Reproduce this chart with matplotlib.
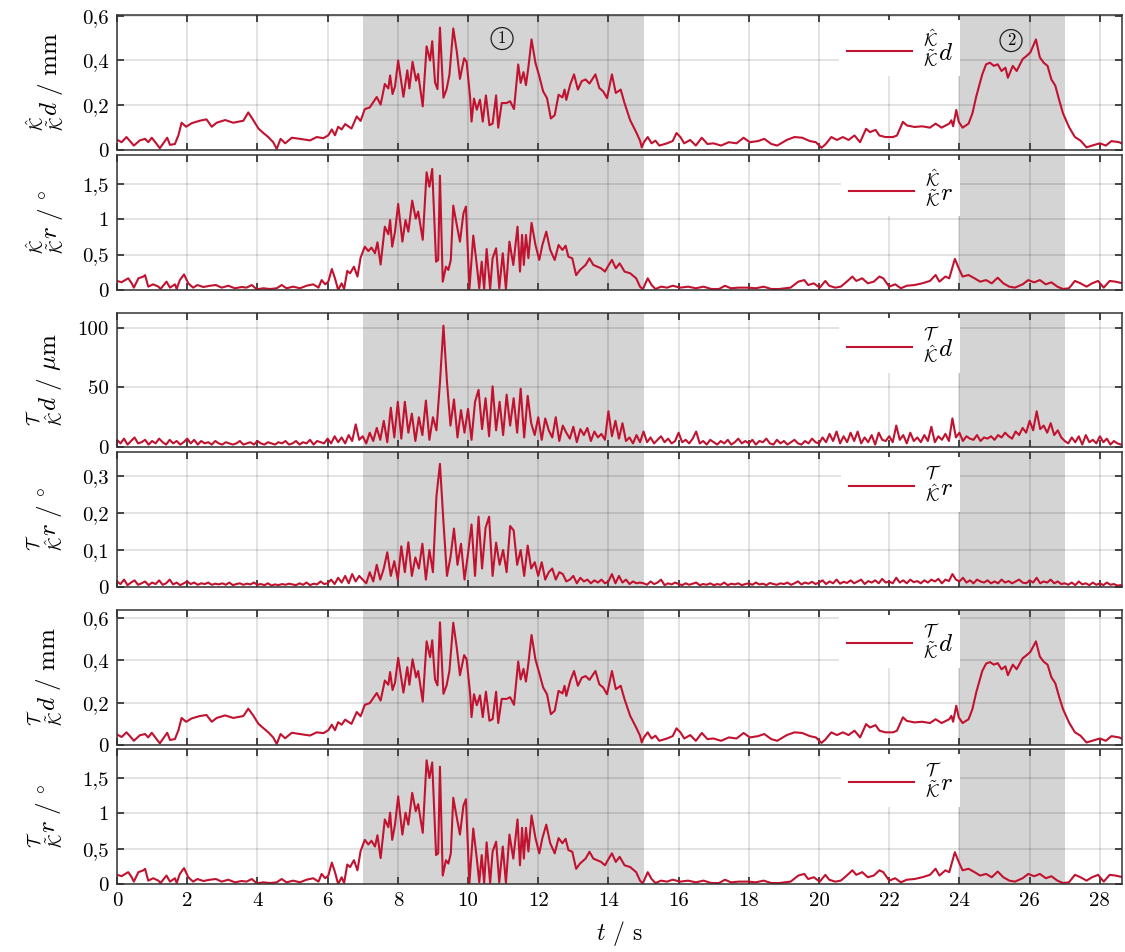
import numpy as np
import matplotlib
matplotlib.use('Agg')
import matplotlib.pyplot as plt

plt.rcParams['font.family'] = ['cmr10', 'DejaVu Serif']
plt.rcParams['mathtext.fontset'] = 'cm'
plt.rcParams['axes.unicode_minus'] = False

# panel 1: K^ K~ d  (mm) as (t, value)
kk_d = [(0.0,0.046),(0.13,0.035),(0.27,0.058),(0.37,0.04),(0.48,0.02),(0.65,0.043),(0.8,0.05),(0.89,0.035),(0.99,0.055),
 (1.13,0.027),(1.22,0.008),(1.43,0.055),(1.51,0.023),(1.65,0.027),(1.75,0.066),(1.84,0.122),(1.97,0.104),(2.13,0.12),
 (2.36,0.131),(2.55,0.137),(2.7,0.104),(2.84,0.122),(3.08,0.134),(3.31,0.122),(3.6,0.131),(3.74,0.168),(3.88,0.134),
 (4.03,0.096),(4.17,0.076),(4.31,0.058),(4.45,0.035),(4.55,0.005),(4.66,0.05),(4.79,0.03),(4.98,0.055),(5.21,0.05),
 (5.5,0.043),(5.69,0.058),(5.88,0.053),(6.02,0.066),(6.12,0.092),(6.21,0.066),(6.3,0.104),(6.4,0.092),(6.5,0.116),
 (6.68,0.096),(6.83,0.15),(6.94,0.13),(7.06,0.183),(7.2,0.19),(7.4,0.237),(7.51,0.203),(7.63,0.295),(7.73,0.275),
 (7.78,0.333),(7.85,0.25),(7.92,0.284),(8.01,0.40),(8.16,0.238),(8.27,0.356),(8.33,0.275),(8.42,0.394),(8.52,0.31),
 (8.58,0.34),(8.71,0.195),(8.82,0.463),(8.92,0.40),(8.98,0.486),(9.06,0.302),(9.13,0.272),(9.2,0.547),(9.3,0.234),
 (9.39,0.272),(9.47,0.336),(9.58,0.543),(9.68,0.44),(9.77,0.318),(9.89,0.41),(9.96,0.394),(10.06,0.234),(10.1,0.127),
 (10.17,0.23),(10.25,0.18),(10.34,0.225),(10.42,0.127),(10.51,0.244),(10.61,0.111),(10.7,0.118),(10.8,0.244),
 (10.86,0.10),(10.96,0.21),(11.1,0.21),(11.2,0.218),(11.31,0.183),(11.43,0.382),(11.5,0.30),(11.58,0.348),
 (11.65,0.29),(11.72,0.37),(11.81,0.494),(11.92,0.39),(12.03,0.33),(12.14,0.262),(12.25,0.232),(12.36,0.141),
 (12.47,0.156),(12.58,0.247),(12.69,0.235),(12.75,0.27),(12.8,0.224),(12.91,0.292),(13.02,0.338),(13.13,0.27),
 (13.24,0.308),(13.35,0.315),(13.46,0.297),(13.63,0.338),(13.74,0.277),(13.85,0.262),(13.96,0.232),(14.1,0.338),
 (14.21,0.255),(14.35,0.27),(14.46,0.209),(14.62,0.133),(14.79,0.08),(14.9,0.042),(14.95,0.012),(15.01,0.035),
 (15.12,0.058),(15.23,0.03),(15.34,0.042),(15.45,0.02),(15.67,0.03),(15.83,0.04),(15.94,0.076),(16.05,0.058),
 (16.16,0.03),(16.33,0.045),(16.49,0.02),(16.66,0.055),(16.82,0.027),(16.99,0.03),(17.21,0.02),(17.43,0.035),
 (17.65,0.03),(17.85,0.055),(18.03,0.035),(18.26,0.04),(18.44,0.05),(18.64,0.027),(18.81,0.02),(19.08,0.045),
 (19.3,0.058),(19.52,0.055),(19.74,0.04),(19.91,0.035),(20.07,0.01),(20.18,0.025),(20.35,0.058),(20.51,0.045),
 (20.68,0.058),(20.84,0.045),(21.01,0.065),(21.17,0.035),(21.34,0.095),(21.45,0.08),(21.61,0.09),(21.72,0.065),
 (21.89,0.058),(22.11,0.058),(22.22,0.065),(22.39,0.126),(22.5,0.11),(22.72,0.103),(22.94,0.106),(23.16,0.1),
 (23.32,0.118),(23.49,0.1),(23.71,0.118),(23.77,0.133),(23.82,0.106),(23.91,0.179),(23.98,0.126),(24.09,0.10),
 (24.26,0.118),(24.37,0.164),(24.48,0.24),(24.65,0.338),(24.76,0.383),(24.87,0.39),(24.98,0.376),(25.09,0.383),
 (25.2,0.353),(25.31,0.368),(25.38,0.323),(25.52,0.376),(25.63,0.353),(25.8,0.406),(25.91,0.42),(26.02,0.436),
 (26.18,0.494),(26.29,0.414),(26.4,0.39),(26.51,0.376),(26.62,0.315),(26.73,0.288),(26.84,0.224),(26.95,0.164),
 (27.12,0.103),(27.29,0.058),(27.45,0.042),(27.62,0.012),(27.78,0.02),(28.0,0.03),(28.17,0.02),(28.33,0.04),
 (28.55,0.035),(28.68,0.025)]

# panel 2: K^ K~ r  (deg)
kk_r = [(0.0,0.127),(0.13,0.11),(0.32,0.165),(0.42,0.094),(0.48,0.033),(0.61,0.165),(0.75,0.19),(0.8,0.21),(0.89,0.047),
 (1.03,0.08),(1.18,0.047),(1.24,0.014),(1.41,0.118),(1.51,0.033),(1.65,0.08),(1.7,0.014),(1.79,0.14),(1.91,0.22),
 (2.03,0.094),(2.17,0.033),(2.29,0.07),(2.46,0.042),(2.65,0.06),(2.82,0.07),(2.98,0.033),(3.17,0.06),(3.36,0.024),
 (3.55,0.042),(3.69,0.033),(3.84,0.07),(3.98,0.01),(4.17,0.024),(4.36,0.014),(4.55,0.024),(4.69,0.07),(4.83,0.024),
 (5.02,0.047),(5.21,0.024),(5.4,0.06),(5.59,0.08),(5.74,0.033),(5.83,0.14),(5.93,0.08),(6.02,0.118),(6.12,0.297),
 (6.21,0.165),(6.3,0.0),(6.4,0.094),(6.47,0.014),(6.56,0.27),(6.64,0.236),(6.75,0.33),(6.85,0.19),(6.94,0.458),
 (7.06,0.613),(7.16,0.55),(7.25,0.6),(7.35,0.52),(7.42,0.675),(7.51,0.36),(7.63,0.896),(7.73,0.788),(7.78,0.99),
 (7.84,0.613),(7.92,0.825),(8.01,1.217),(8.13,0.684),(8.22,0.99),(8.3,0.825),(8.41,1.264),(8.51,1.01),(8.58,1.11),
 (8.71,0.71),(8.82,1.665),(8.9,1.46),(8.98,1.712),(9.09,0.40),(9.15,0.425),(9.2,1.618),(9.28,0.118),(9.37,0.33),
 (9.44,0.283),(9.51,0.425),(9.58,1.193),(9.68,0.92),(9.77,0.684),(9.87,1.085),(9.94,1.18),(10.04,0.014),(10.15,0.77),
 (10.25,0.354),(10.32,0.024),(10.39,0.40),(10.46,0.014),(10.53,0.58),(10.63,0.014),(10.7,0.448),(10.8,0.59),
 (10.89,0.024),(10.99,0.52),(11.08,0.014),(11.18,0.684),(11.29,0.354),(11.41,0.896),(11.48,0.26),(11.54,0.78),
 (11.59,0.354),(11.65,0.78),(11.72,0.45),(11.81,0.95),(11.92,0.64),(12.03,0.425),(12.12,0.64),(12.23,0.825),
 (12.34,0.57),(12.47,0.425),(12.58,0.637),(12.69,0.566),(12.78,0.627),(12.86,0.47),(12.97,0.448),(13.08,0.21),
 (13.19,0.283),(13.35,0.354),(13.46,0.448),(13.57,0.354),(13.68,0.33),(13.79,0.307),(13.9,0.26),(14.01,0.354),
 (14.1,0.425),(14.21,0.307),(14.32,0.377),(14.46,0.26),(14.62,0.236),(14.79,0.165),(14.9,0.047),(14.98,0.01),
 (15.12,0.165),(15.23,0.07),(15.34,0.014),(15.5,0.047),(15.67,0.033),(15.83,0.06),(16.05,0.033),(16.27,0.047),
 (16.49,0.024),(16.71,0.047),(16.93,0.014),(17.15,0.014),(17.32,0.06),(17.49,0.024),(17.71,0.033),(17.98,0.033),
 (18.2,0.024),(18.42,0.047),(18.64,0.014),(18.86,0.014),(19.19,0.033),(19.41,0.118),(19.58,0.14),(19.69,0.07),
 (19.85,0.094),(20.02,0.033),(20.18,0.128),(20.29,0.06),(20.46,0.033),(20.62,0.047),(20.79,0.118),(20.95,0.19),
 (21.06,0.128),(21.23,0.165),(21.39,0.094),(21.56,0.118),(21.72,0.19),(21.83,0.165),(22.0,0.047),(22.17,0.08),
 (22.33,0.024),(22.5,0.06),(22.72,0.07),(22.94,0.094),(23.16,0.128),(23.32,0.212),(23.43,0.118),(23.6,0.19),
 (23.71,0.165),(23.87,0.44),(23.98,0.307),(24.09,0.19),(24.26,0.212),(24.43,0.165),(24.59,0.118),(24.76,0.14),
 (24.92,0.094),(25.09,0.174),(25.25,0.094),(25.42,0.047),(25.58,0.033),(25.8,0.08),(25.96,0.14),(26.13,0.108),
 (26.29,0.14),(26.46,0.08),(26.62,0.108),(26.79,0.047),(26.95,0.014),(27.12,0.024),(27.29,0.128),(27.45,0.094),
 (27.62,0.047),(27.78,0.094),(27.95,0.128),(28.11,0.033),(28.28,0.128),(28.44,0.118),(28.66,0.094)]

# panels 3 and 4 sampled every 0.1 s from t = 0
tau_step = 0.1
tk_d = [6,3,7,2,5,8,3,4,6,2, 5,3,7,4,2,6,3,5,2,4, 7,3,6,2,5,3,4,2,5,3, 2,4,3,2,3,5,2,3,4,2,
 5,3,2,4,3,2,4,3,5,2, 3,5,2,4,3,6,2,5,4,3, 7,3,9,4,8,3,10,5,19,6, 9,3,12,5,16,6,22,4,33,8,
 38,7,38,12,28,5,25,10,39,6, 25,14,54,102,55,18,40,8,31,12, 32,6,38,48,15,41,9,51,14,38,
 10,44,18,41,12,49,8,43,20,10, 25,6,24,14,8,25,5,18,12,7, 17,4,15,10,16,5,13,8,11,6,
 30,9,22,7,20,5,8,3,10,4, 13,4,8,3,6,9,4,7,3,5, 12,4,6,3,7,13,3,5,2,6, 4,2,5,3,6,2,4,7,3,5,
 3,6,2,5,4,7,3,2,6,3, 5,2,4,6,3,2,5,3,7,4, 3,8,4,11,5,13,3,9,4,12, 5,13,3,8,4,10,2,12,6,5,
 9,4,18,6,10,3,12,5,8,4, 10,5,17,4,9,6,11,5,24,8, 12,5,9,7,6,10,5,8,7,9, 6,10,8,12,9,7,13,10,16,12,
 22,14,30,15,18,12,20,10,14,8, 5,3,8,4,9,2,10,4,6,3, 9,4,7,2,5,3,2]
tk_r = [.015,.008,.02,.005,.012,.018,.006,.01,.015,.005, .012,.008,.018,.006,.01,.02,.007,.012,.005,.01,
 .015,.008,.012,.006,.01,.008,.012,.006,.009,.007, .01,.006,.012,.005,.008,.01,.006,.009,.007,.012,
 .006,.008,.005,.01,.004,.007,.005,.008,.006,.009, .007,.005,.01,.006,.012,.005,.009,.007,.015,.008,
 .01,.02,.008,.025,.012,.03,.01,.035,.015,.03, .02,.01,.04,.015,.06,.02,.05,.094,.03,.07,
 .02,.11,.04,.121,.03,.08,.05,.117,.02,.1, .04,.245,.333,.176,.03,.08,.158,.06,.117,.02,
 .09,.169,.03,.19,.05,.16,.19,.03,.12,.06, .1,.04,.165,.153,.06,.1,.03,.112,.05,.067,
 .03,.067,.02,.04,.05,.02,.04,.035,.015,.02, .03,.01,.025,.015,.02,.01,.018,.012,.02,.01,
 .015,.035,.01,.03,.012,.02,.008,.015,.01,.012, .01,.006,.015,.008,.012,.02,.005,.01,.007,.012,
 .008,.005,.01,.006,.009,.012,.005,.008,.006,.01, .005,.008,.006,.012,.005,.009,.007,.01,.005,.008,
 .01,.006,.012,.007,.009,.005,.011,.008,.006,.01, .008,.012,.006,.01,.015,.007,.012,.009,.014,.008,
 .012,.018,.008,.015,.01,.02,.009,.014,.011,.018, .01,.015,.02,.008,.016,.012,.018,.01,.022,.012,
 .015,.01,.025,.012,.018,.01,.02,.013,.016,.01, .018,.012,.02,.015,.022,.01,.02,.016,.035,.02,
 .015,.025,.012,.018,.01,.02,.015,.012,.018,.01, .015,.01,.02,.012,.016,.01,.015,.02,.012,.01,
 .018,.012,.025,.01,.015,.012,.02,.01,.015,.008, .01,.006,.012,.005,.015,.007,.01,.005,.012,.006,
 .01,.005,.012,.006,.008,.004,.005]

# panel 5: T K~ d (mm)
tk2_d = [(0.0,0.05),(0.13,0.038),(0.27,0.06),(0.37,0.042),(0.48,0.02),(0.65,0.046),(0.8,0.052),(0.89,0.036),(0.99,0.058),
 (1.13,0.028),(1.22,0.008),(1.43,0.058),(1.51,0.024),(1.65,0.028),(1.75,0.07),(1.84,0.128),(1.97,0.11),(2.13,0.126),
 (2.36,0.137),(2.55,0.142),(2.7,0.11),(2.84,0.128),(3.08,0.14),(3.31,0.128),(3.6,0.137),(3.74,0.172),(3.88,0.14),
 (4.03,0.1),(4.17,0.08),(4.31,0.06),(4.45,0.036),(4.55,0.005),(4.66,0.052),(4.79,0.032),(4.98,0.058),(5.21,0.052),
 (5.5,0.045),(5.69,0.06),(5.88,0.056),(6.02,0.07),(6.12,0.096),(6.21,0.07),(6.3,0.108),(6.4,0.096),(6.5,0.12),
 (6.68,0.1),(6.83,0.156),(6.94,0.136),(7.06,0.19),(7.2,0.198),(7.4,0.246),(7.51,0.21),(7.63,0.305),(7.73,0.285),
 (7.78,0.345),(7.85,0.26),(7.92,0.295),(8.01,0.412),(8.16,0.248),(8.27,0.368),(8.33,0.285),(8.42,0.405),(8.52,0.32),
 (8.58,0.35),(8.71,0.205),(8.82,0.49),(8.92,0.415),(8.98,0.495),(9.06,0.31),(9.13,0.282),(9.2,0.58),(9.3,0.242),
 (9.39,0.282),(9.47,0.35),(9.58,0.578),(9.68,0.46),(9.77,0.33),(9.89,0.425),(9.96,0.405),(10.06,0.242),(10.1,0.132),
 (10.17,0.24),(10.25,0.188),(10.34,0.235),(10.42,0.132),(10.51,0.252),(10.61,0.115),(10.7,0.122),(10.8,0.252),
 (10.86,0.104),(10.96,0.218),(11.1,0.218),(11.2,0.226),(11.31,0.19),(11.43,0.395),(11.5,0.31),(11.58,0.36),
 (11.65,0.3),(11.72,0.385),(11.81,0.52),(11.92,0.405),(12.03,0.34),(12.14,0.272),(12.25,0.24),(12.36,0.146),
 (12.47,0.162),(12.58,0.256),(12.69,0.244),(12.75,0.28),(12.8,0.232),(12.91,0.302),(13.02,0.35),(13.13,0.28),
 (13.24,0.318),(13.35,0.326),(13.46,0.308),(13.63,0.35),(13.74,0.287),(13.85,0.272),(13.96,0.24),(14.1,0.35),
 (14.21,0.264),(14.35,0.28),(14.46,0.216),(14.62,0.138),(14.79,0.083),(14.9,0.044),(14.95,0.012),(15.01,0.036),
 (15.12,0.06),(15.23,0.031),(15.34,0.044),(15.45,0.02),(15.67,0.031),(15.83,0.042),(15.94,0.079),(16.05,0.06),
 (16.16,0.031),(16.33,0.047),(16.49,0.02),(16.66,0.057),(16.82,0.028),(16.99,0.031),(17.21,0.02),(17.43,0.036),
 (17.65,0.031),(17.85,0.057),(18.03,0.036),(18.26,0.042),(18.44,0.052),(18.64,0.028),(18.81,0.02),(19.08,0.047),
 (19.3,0.06),(19.52,0.057),(19.74,0.042),(19.91,0.036),(20.07,0.01),(20.18,0.026),(20.35,0.06),(20.51,0.047),
 (20.68,0.06),(20.84,0.047),(21.01,0.068),(21.17,0.036),(21.34,0.099),(21.45,0.083),(21.61,0.094),(21.72,0.068),
 (21.89,0.06),(22.11,0.06),(22.22,0.068),(22.39,0.131),(22.5,0.114),(22.72,0.107),(22.94,0.11),(23.16,0.104),
 (23.32,0.122),(23.49,0.104),(23.71,0.122),(23.77,0.138),(23.82,0.11),(23.91,0.186),(23.98,0.131),(24.09,0.104),
 (24.26,0.122),(24.37,0.17),(24.48,0.25),(24.65,0.35),(24.76,0.385),(24.87,0.392),(24.98,0.38),(25.09,0.387),
 (25.2,0.358),(25.31,0.372),(25.38,0.33),(25.52,0.38),(25.63,0.358),(25.8,0.41),(25.91,0.424),(26.02,0.44),
 (26.18,0.49),(26.29,0.418),(26.4,0.394),(26.51,0.38),(26.62,0.32),(26.73,0.292),(26.84,0.228),(26.95,0.17),
 (27.12,0.107),(27.29,0.06),(27.45,0.044),(27.62,0.012),(27.78,0.02),(28.0,0.031),(28.17,0.02),(28.33,0.042),
 (28.55,0.036),(28.68,0.026)]

# panel 6: T K~ r (deg)
tk2_r = [(0.0,0.13),(0.13,0.112),(0.32,0.168),(0.42,0.096),(0.48,0.034),(0.61,0.168),(0.75,0.194),(0.8,0.215),(0.89,0.048),
 (1.03,0.082),(1.18,0.048),(1.24,0.014),(1.41,0.12),(1.51,0.034),(1.65,0.082),(1.7,0.014),(1.79,0.143),(1.91,0.225),
 (2.03,0.096),(2.17,0.034),(2.29,0.071),(2.46,0.043),(2.65,0.061),(2.82,0.071),(2.98,0.034),(3.17,0.061),(3.36,0.024),
 (3.55,0.043),(3.69,0.034),(3.84,0.071),(3.98,0.01),(4.17,0.024),(4.36,0.014),(4.55,0.024),(4.69,0.071),(4.83,0.024),
 (5.02,0.048),(5.21,0.024),(5.4,0.061),(5.59,0.082),(5.74,0.034),(5.83,0.143),(5.93,0.082),(6.02,0.12),(6.12,0.303),
 (6.21,0.168),(6.3,0.0),(6.4,0.096),(6.47,0.014),(6.56,0.276),(6.64,0.24),(6.75,0.337),(6.85,0.194),(6.94,0.467),
 (7.06,0.625),(7.16,0.56),(7.25,0.612),(7.35,0.53),(7.42,0.69),(7.51,0.367),(7.63,0.914),(7.73,0.804),(7.78,1.01),
 (7.84,0.625),(7.92,0.84),(8.01,1.24),(8.13,0.7),(8.22,1.01),(8.3,0.84),(8.41,1.29),(8.51,1.03),(8.58,1.13),
 (8.71,0.724),(8.82,1.75),(8.9,1.5),(8.98,1.72),(9.09,0.41),(9.15,0.434),(9.2,1.66),(9.28,0.12),(9.37,0.337),
 (9.44,0.29),(9.51,0.434),(9.58,1.22),(9.68,0.94),(9.77,0.7),(9.87,1.11),(9.94,1.2),(10.04,0.014),(10.15,0.785),
 (10.25,0.36),(10.32,0.024),(10.39,0.41),(10.46,0.014),(10.53,0.59),(10.63,0.014),(10.7,0.457),(10.8,0.6),
 (10.89,0.024),(10.99,0.53),(11.08,0.014),(11.18,0.7),(11.29,0.36),(11.41,0.914),(11.48,0.265),(11.54,0.795),
 (11.59,0.36),(11.65,0.795),(11.72,0.46),(11.81,0.97),(11.92,0.653),(12.03,0.434),(12.12,0.653),(12.23,0.84),
 (12.34,0.58),(12.47,0.434),(12.58,0.65),(12.69,0.577),(12.78,0.64),(12.86,0.48),(12.97,0.457),(13.08,0.215),
 (13.19,0.29),(13.35,0.36),(13.46,0.457),(13.57,0.36),(13.68,0.337),(13.79,0.313),(13.9,0.265),(14.01,0.36),
 (14.1,0.434),(14.21,0.313),(14.32,0.385),(14.46,0.265),(14.62,0.24),(14.79,0.168),(14.9,0.048),(14.98,0.01),
 (15.12,0.168),(15.23,0.071),(15.34,0.014),(15.5,0.048),(15.67,0.034),(15.83,0.061),(16.05,0.034),(16.27,0.048),
 (16.49,0.024),(16.71,0.048),(16.93,0.014),(17.15,0.014),(17.32,0.061),(17.49,0.024),(17.71,0.034),(17.98,0.034),
 (18.2,0.024),(18.42,0.048),(18.64,0.014),(18.86,0.014),(19.19,0.034),(19.41,0.12),(19.58,0.143),(19.69,0.071),
 (19.85,0.096),(20.02,0.034),(20.18,0.13),(20.29,0.061),(20.46,0.034),(20.62,0.048),(20.79,0.12),(20.95,0.194),
 (21.06,0.13),(21.23,0.168),(21.39,0.096),(21.56,0.12),(21.72,0.194),(21.83,0.168),(22.0,0.048),(22.17,0.082),
 (22.33,0.024),(22.5,0.061),(22.72,0.071),(22.94,0.096),(23.16,0.13),(23.32,0.216),(23.43,0.12),(23.6,0.194),
 (23.71,0.168),(23.87,0.45),(23.98,0.313),(24.09,0.194),(24.26,0.216),(24.43,0.168),(24.59,0.12),(24.76,0.143),
 (24.92,0.096),(25.09,0.177),(25.25,0.096),(25.42,0.048),(25.58,0.034),(25.8,0.082),(25.96,0.143),(26.13,0.11),
 (26.29,0.143),(26.46,0.082),(26.62,0.11),(26.79,0.048),(26.95,0.014),(27.12,0.024),(27.29,0.13),(27.45,0.096),
 (27.62,0.048),(27.78,0.096),(27.95,0.13),(28.11,0.034),(28.28,0.13),(28.44,0.12),(28.66,0.096)]

shade_spans = [(7, 15), (24, 27)]
red = '#c1122f'

sym_kk = r'{}^{\hat{\mathcal{K}}}_{\tilde{\mathcal{K}}}'
sym_tk = r'{}^{\mathcal{T}}_{\hat{\mathcal{K}}}'
sym_tk2 = r'{}^{\mathcal{T}}_{\tilde{\mathcal{K}}}'

tau_t = np.arange(len(tk_d)) * tau_step

panels = [
    (np.array(kk_d)[:, 0], np.array(kk_d)[:, 1], 0.603, [0, 0.2, 0.4, 0.6], ['0', '0,2', '0,4', '0,6'],
     '$' + sym_kk + r'd\ /\ \mathrm{mm}$', '$' + sym_kk + 'd$'),
    (np.array(kk_r)[:, 0], np.array(kk_r)[:, 1], 1.91, [0, 0.5, 1, 1.5], ['0', '0,5', '1', '1,5'],
     '$' + sym_kk + r'r\ /\ {}^{\circ}$', '$' + sym_kk + 'r$'),
    (tau_t, np.array(tk_d), 112.7, [0, 50, 100], ['0', '50', '100'],
     '$' + sym_tk + r'd\ /\ \mathrm{\mu m}$', '$' + sym_tk + 'd$'),
    (tau_t, np.array(tk_r), 0.365, [0, 0.1, 0.2, 0.3], ['0', '0,1', '0,2', '0,3'],
     '$' + sym_tk + r'r\ /\ {}^{\circ}$', '$' + sym_tk + 'r$'),
    (np.array(tk2_d)[:, 0], np.array(tk2_d)[:, 1], 0.638, [0, 0.2, 0.4, 0.6], ['0', '0,2', '0,4', '0,6'],
     '$' + sym_tk2 + r'd\ /\ \mathrm{mm}$', '$' + sym_tk2 + 'd$'),
    (np.array(tk2_r)[:, 0], np.array(tk2_r)[:, 1], 1.91, [0, 0.5, 1, 1.5], ['0', '0,5', '1', '1,5'],
     '$' + sym_tk2 + r'r\ /\ {}^{\circ}$', '$' + sym_tk2 + 'r$'),
]

# axes boxes in figure fractions (left, bottom, width, height)
boxes = [(0.104, 0.8424, 0.8933, 0.1418), (0.104, 0.6954, 0.8933, 0.1418),
         (0.104, 0.5305, 0.8933, 0.1408), (0.104, 0.3834, 0.8933, 0.1418),
         (0.104, 0.2174, 0.8933, 0.1418), (0.104, 0.0714, 0.8933, 0.1418)]

fig = plt.figure(figsize=(11.25, 9.52), dpi=100)
axes = []
for i, (t, v, top, yt, ytl, ylab, leg) in enumerate(panels):
    ax = fig.add_axes(boxes[i])
    axes.append(ax)
    for a, b in shade_spans:
        ax.axvspan(a, b, color='#d4d4d4', lw=0, zorder=0.2)
    ax.plot(t, v, color=red, lw=1.5, label=leg, zorder=2)
    ax.set_xlim(0, 28.63)
    ax.set_ylim(0, top)
    ax.set_xticks(range(0, 29, 2))
    ax.set_yticks(yt)
    ax.set_yticklabels(ytl)
    ax.set_axisbelow(True)
    ax.grid(True, color='k', alpha=0.14, lw=1.1)
    ax.tick_params(direction='in', top=True, right=True, length=5, width=1.4,
                   color='#444444', labelsize=15, pad=6)
    if i < 5:
        ax.tick_params(labelbottom=False)
    for s in ax.spines.values():
        s.set_color('#333333')
        s.set_linewidth(1.1)
    ax.set_ylabel(ylab, fontsize=18)
    ax.yaxis.set_label_coords(-0.052, 0.5)
    lg = ax.legend(loc='upper right', bbox_to_anchor=(0.839, 0.965), fontsize=18, handlelength=2.6,
                   handletextpad=0.4, borderaxespad=0, borderpad=0.3, fancybox=False, framealpha=1)
    lg.get_frame().set_edgecolor('none')
    lg.get_frame().set_facecolor('white')

circ = dict(boxstyle='circle,pad=0.2', fc='none', ec='#222222', lw=0.9)
axes[0].text(10.97, 0.498, '1', ha='center', va='center', fontsize=12, bbox=circ)
axes[0].text(25.47, 0.489, '2', ha='center', va='center', fontsize=12, bbox=circ)

axes[5].set_xlabel(r'$t$ / s', fontsize=17, labelpad=6)

fig.savefig('out.png', dpi=100)
